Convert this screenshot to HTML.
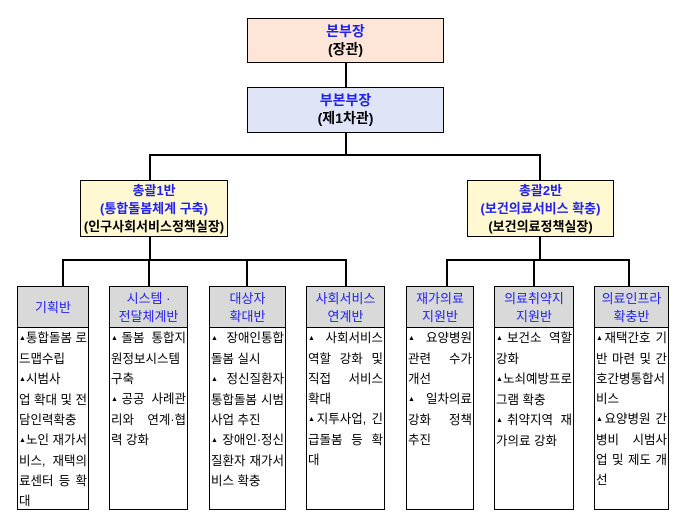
<!DOCTYPE html>
<html><head><meta charset="utf-8"><style>
body{margin:0;width:696px;height:530px;background:#fff;position:relative;font-family:"Liberation Sans","Noto Sans CJK KR",sans-serif;overflow:hidden}
.b{position:absolute;border:1.5px solid #000;box-sizing:border-box;text-align:center}
.l{position:absolute;background:#000}
.t{color:#2222ee}
.top{font-weight:bold;font-size:14px;line-height:18px;padding-top:3px}
.g{font-weight:bold;font-size:13px;line-height:18px;padding-top:1px;background:#fff8d0}
.h{background:#d9d9d9;font-size:13px;line-height:18px;display:flex;align-items:center;justify-content:center;border-bottom:none}
.bd{font-size:12.5px;line-height:20px;text-align:justify;text-justify:inter-word;text-align-last:left;padding:0 1px;word-break:break-all}
.bd i{font-style:normal;font-size:7px;vertical-align:2px}
</style></head><body>
<div class="b top" style="left:247px;top:18px;width:197px;height:45px;background:#fde5d8"><span class="t">본부장</span><br>(장관)</div>
<div class="l" style="left:345px;top:62px;width:1.5px;height:25px"></div>
<div class="b top" style="left:247px;top:87px;width:197px;height:46px;background:#dfe5f7"><span class="t">부본부장</span><br>(제1차관)</div>
<div class="l" style="left:345px;top:132px;width:1.5px;height:23px"></div>
<div class="l" style="left:149px;top:154px;width:391px;height:1.5px"></div>
<div class="l" style="left:149px;top:154px;width:1.5px;height:26px"></div>
<div class="l" style="left:539px;top:154px;width:1.5px;height:26px"></div>
<div class="b g" style="left:80px;top:180px;width:148px;height:57px"><span class="t">총괄1반<br>(통합돌봄체계 구축)</span><br>(인구사회서비스정책실장)</div>
<div class="b g" style="left:467px;top:180px;width:147px;height:57px"><span class="t">총괄2반<br>(보건의료서비스 확충)</span><br>(보건의료정책실장)</div>
<div class="l" style="left:149px;top:237px;width:1.5px;height:23px"></div>
<div class="l" style="left:539px;top:237px;width:1.5px;height:23px"></div>
<div class="l" style="left:62px;top:259px;width:285px;height:1.5px"></div>
<div class="l" style="left:446px;top:259px;width:184px;height:1.5px"></div>
<div class="l" style="left:62px;top:259px;width:1.5px;height:27px"></div>
<div class="l" style="left:148px;top:259px;width:1.5px;height:27px"></div>
<div class="l" style="left:246px;top:259px;width:1.5px;height:27px"></div>
<div class="l" style="left:345px;top:259px;width:1.5px;height:27px"></div>
<div class="l" style="left:446px;top:259px;width:1.5px;height:27px"></div>
<div class="l" style="left:533px;top:259px;width:1.5px;height:27px"></div>
<div class="l" style="left:628px;top:259px;width:1.5px;height:27px"></div>

<div class="b h t" style="left:17px;top:286px;width:72px;height:42px">기획반</div>
<div class="b bd" style="left:17px;top:327px;width:72px;height:183px"><i>▲</i>통합돌봄 로드맵수립<br><i>▲</i>시범사<br>업 확대 및 전담인력확충<br><i>▲</i>노인 재가서비스, 재택의료센터 등 확대</div>

<div class="b h t" style="left:109px;top:286px;width:79px;height:42px">시스템 ·<br>전달체계반</div>
<div class="b bd" style="left:109px;top:327px;width:79px;height:183px"><i>▲</i>돌봄 통합지원정보시스템 구축<br><i>▲</i>공공 사례관리와 연계·협력 강화</div>

<div class="b h t" style="left:209px;top:286px;width:77px;height:42px">대상자<br>확대반</div>
<div class="b bd" style="left:209px;top:327px;width:77px;height:183px"><i>▲</i>장애인통합 돌봄 실시<br><i>▲</i>정신질환자 통합돌봄 시범사업 추진<br><i>▲</i>장애인·정신질환자 재가서비스 확충</div>

<div class="b h t" style="left:306px;top:286px;width:79px;height:42px">사회서비스<br>연계반</div>
<div class="b bd" style="left:306px;top:327px;width:79px;height:183px"><i>▲</i>사회서비스 역할 강화 및 직접 서비스 확대<br><i>▲</i>지투사업, 긴급돌봄 등 확대</div>

<div class="b h t" style="left:406px;top:286px;width:68px;height:42px">재가의료<br>지원반</div>
<div class="b bd" style="left:406px;top:327px;width:68px;height:183px"><i>▲</i>요양병원 관련 수가 개선<br><i>▲</i>일차의료 강화 정책 추진</div>

<div class="b h t" style="left:494px;top:286px;width:80px;height:42px">의료취약지<br>지원반</div>
<div class="b bd" style="left:494px;top:327px;width:80px;height:183px"><i>▲</i>보건소 역할 강화<br><i>▲</i>노쇠예방프로그램 확충<br><i>▲</i>취약지역 재가의료 강화</div>

<div class="b h t" style="left:594px;top:286px;width:75px;height:42px">의료인프라<br>확충반</div>
<div class="b bd" style="left:594px;top:327px;width:75px;height:183px"><i>▲</i>재택간호 기반 마련 및 간호간병통합서비스<br><i>▲</i>요양병원 간병비 시범사업 및 제도 개선</div>
</body></html>
